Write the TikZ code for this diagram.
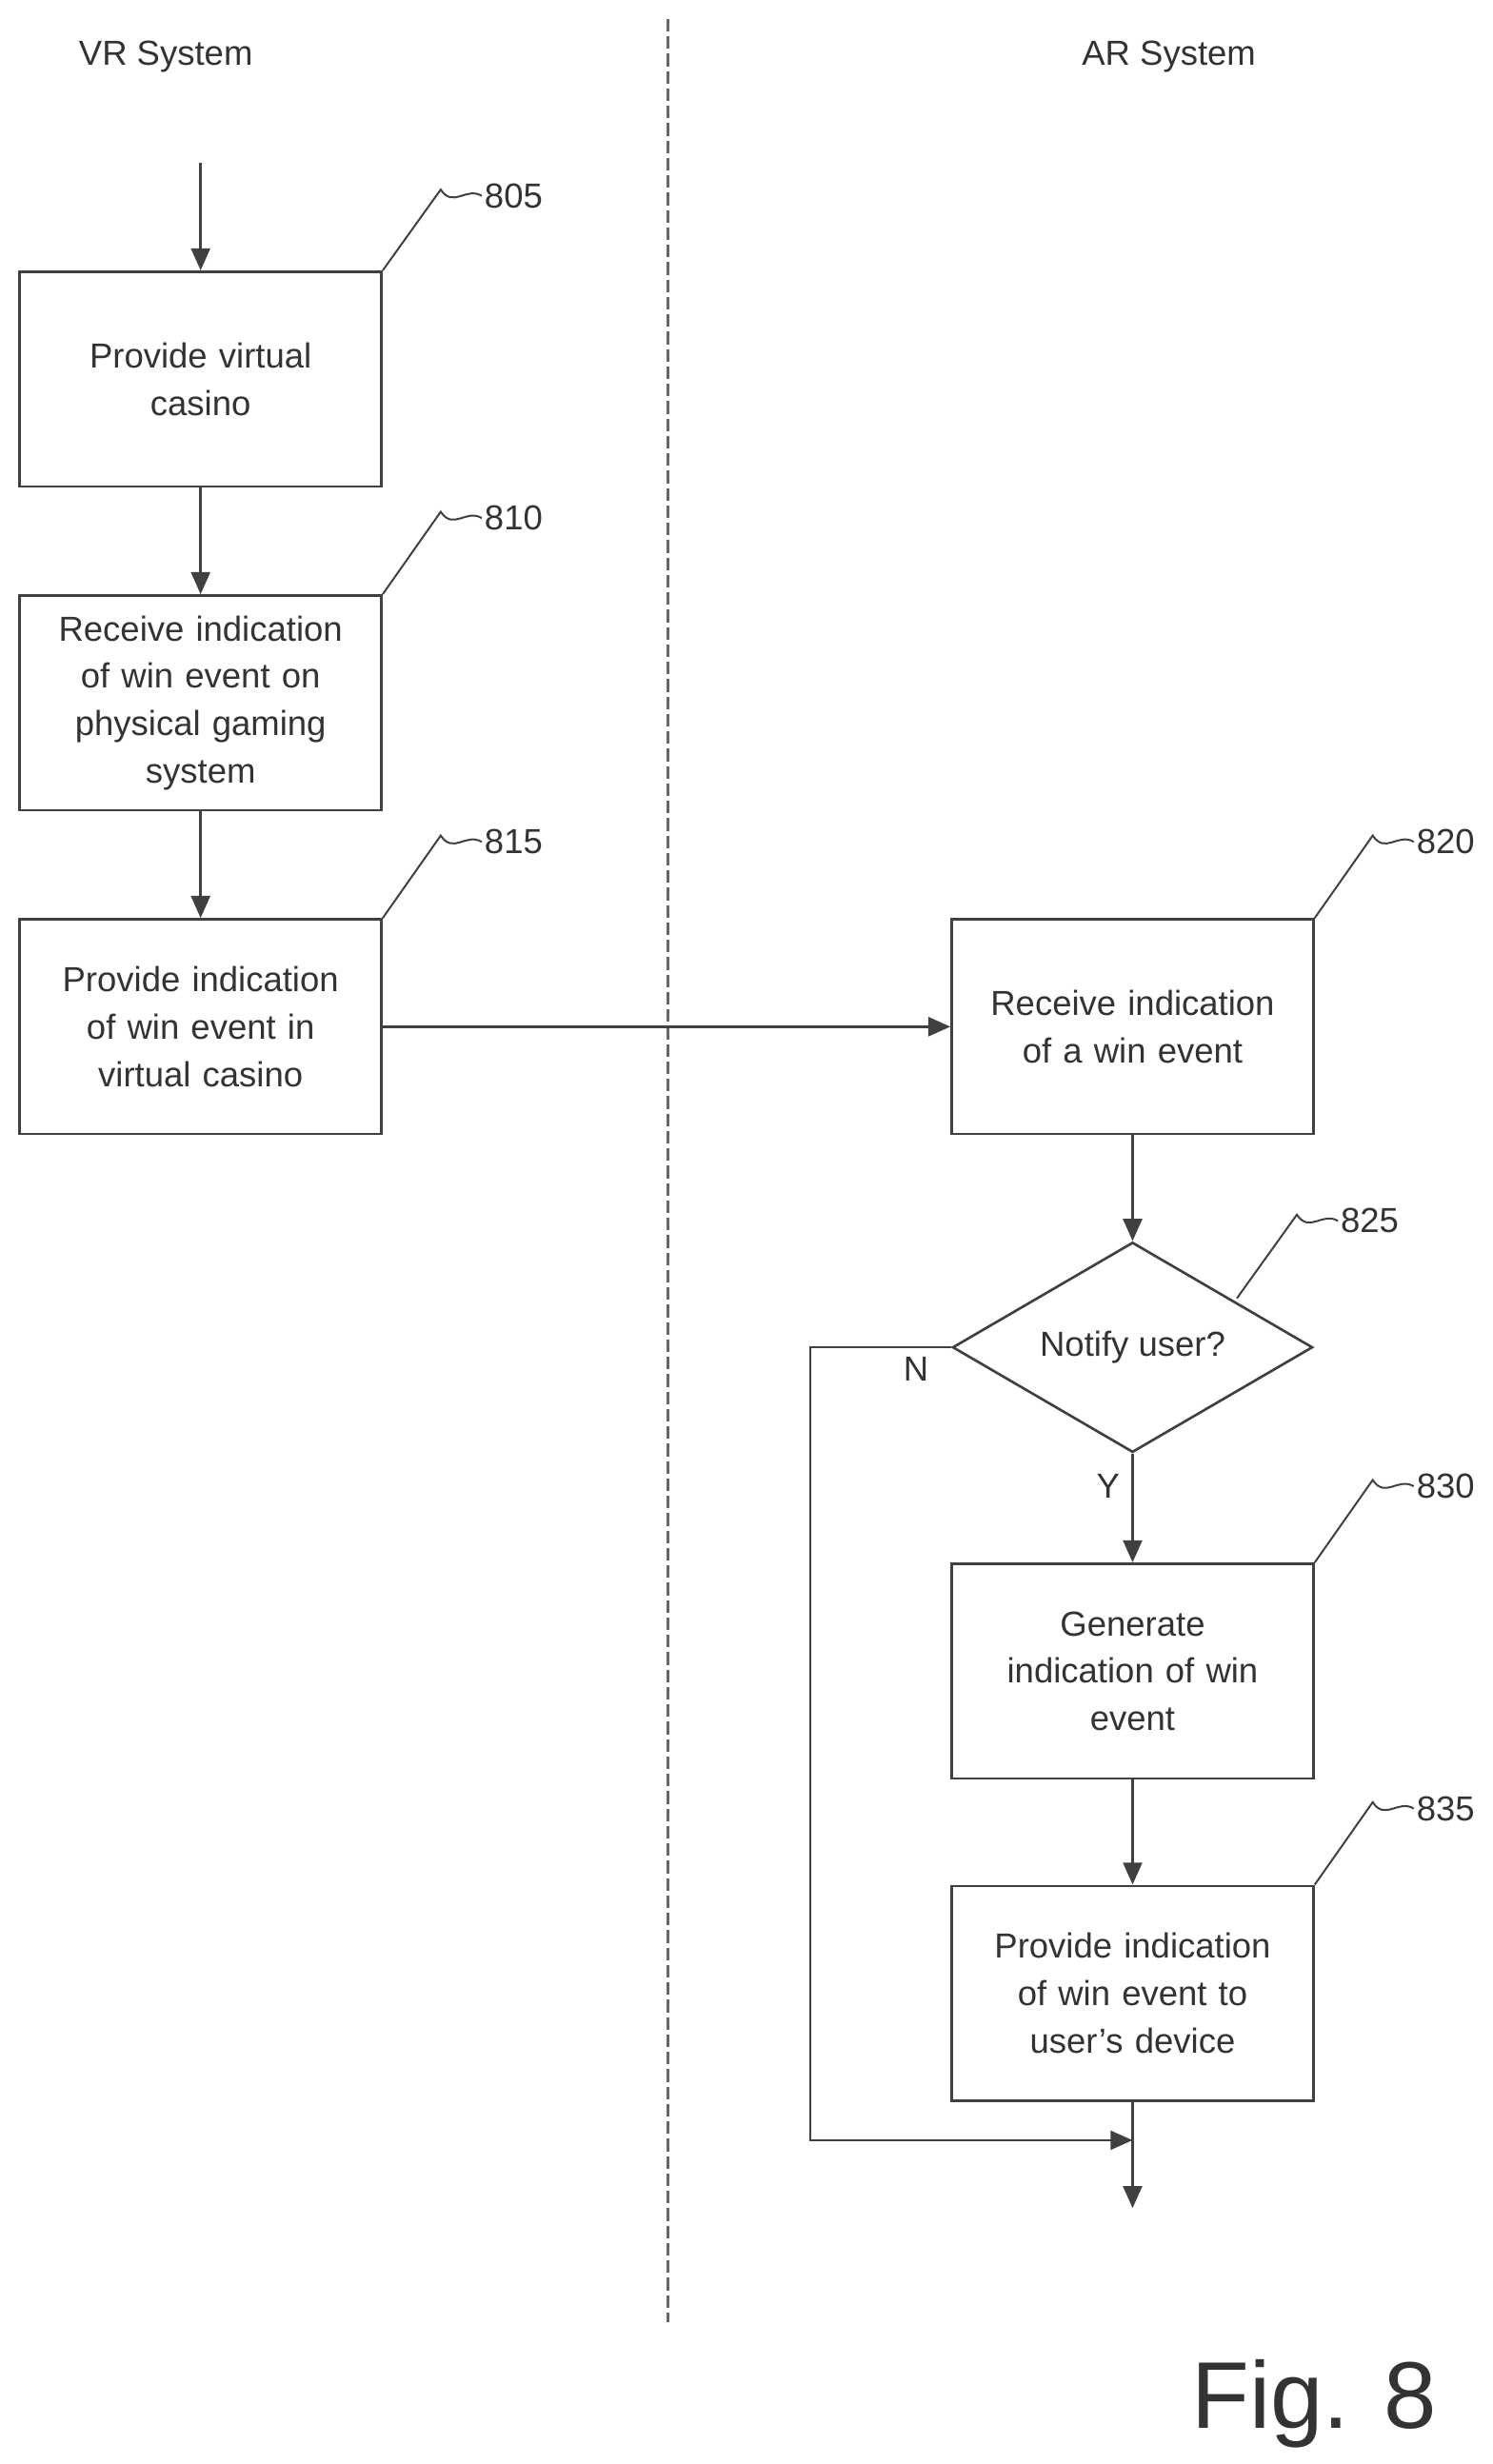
\documentclass[tikz,border=0pt]{standalone}
\usepackage{fontspec}
\setmainfont{Liberation Sans}
\usetikzlibrary{arrows.meta, positioning, shapes.geometric}

\begin{document}
\begin{tikzpicture}[x=1pt, y=-1pt, >={Triangle[length=14pt,width=12pt]}, line width=1.6pt, draw=black!75,
    every node/.style={font={\fontsize{22}{30}\selectfont}, text=black!80},
    block/.style={draw=black!75, line width=1.6pt, minimum width=229pt, minimum height=136pt, align=center, text width=210pt},
    test/.style={draw=black!75, line width=1.6pt, diamond, aspect=1.7, minimum width=228pt, minimum height=133pt, inner sep=0pt},
    refnum/.style={anchor=west, inner sep=1pt}]
    \useasboundingbox (0,0) rectangle (945,1560);

    \node at (105,36) (vr) {VR System};
    \node at (740,36) (ar) {AR System};
    \draw[dash pattern=on 8pt off 3pt, line width=2pt, black!60] (423,12) -- (423,1470);

    \node[block] (casino) at (127,240) {Provide virtual\\casino};
    \node[block] (receive) at (127,445) {Receive indication\\of win event on\\physical gaming\\system};
    \node[block] (vrwin) at (127,650) {Provide indication\\of win event in\\virtual casino};
    \node[block] (arwin) at (717,650) {Receive indication\\of a win event};
    \node[test] (notify) at (717,853) {Notify user?};
    \node[block] (generate) at (717,1058) {Generate\\indication of win\\event};
    \node[block] (device) at (717,1262) {Provide indication\\of win event to\\user's device};

    \coordinate (start) at (127,103);
    \coordinate (finish) at (717,1398);
    \coordinate (bypass) at (513,853);
    \coordinate (bypassend) at (513,1355);
    \coordinate (join) at (717,1355);

    \draw[->] (start) -- (casino);
    \draw[->] (casino) -- (receive);
    \draw[->] (receive) -- (vrwin);
    \draw[->] (vrwin) -- (arwin);
    \draw[->] (arwin) -- (notify);
    \draw[->] (notify) -- node[left, pos=0.3, xshift=-4pt] {Y} (generate);
    \draw[->] (generate) -- (device);
    \draw[->] (device) -- (finish);
    \draw[->] (notify.west) -- node[below, pos=0.25, yshift=-2pt] {N} (bypass) -- (bypassend) -- (join);

    % reference numerals
    \node[refnum] (n805) at (305,124) {805};
    \node[refnum] (n810) at (305,328) {810};
    \node[refnum] (n815) at (305,533) {815};
    \node[refnum] (n820) at (895,533) {820};
    \node[refnum] (n825) at (847,773) {825};
    \node[refnum] (n830) at (895,941) {830};
    \node[refnum] (n835) at (895,1145) {835};
    \foreach \b/\n in {casino/n805, receive/n810, vrwin/n815, arwin/n820, generate/n830, device/n835}
        \draw[line width=1.2pt] (\b.north east) -- ([xshift=-26pt,yshift=4pt]\n.west) .. controls ([xshift=-18pt,yshift=-8pt]\n.west) and ([xshift=-10pt,yshift=6pt]\n.west) .. (\n.west);
    \draw[line width=1.2pt] (783,822) -- ([xshift=-26pt,yshift=4pt]n825.west) .. controls ([xshift=-18pt,yshift=-8pt]n825.west) and ([xshift=-10pt,yshift=6pt]n825.west) .. (n825.west);

    \node[font={\fontsize{60}{66}\selectfont}] (fig) at (832,1522) {Fig. 8};
\end{tikzpicture}
\end{document}
